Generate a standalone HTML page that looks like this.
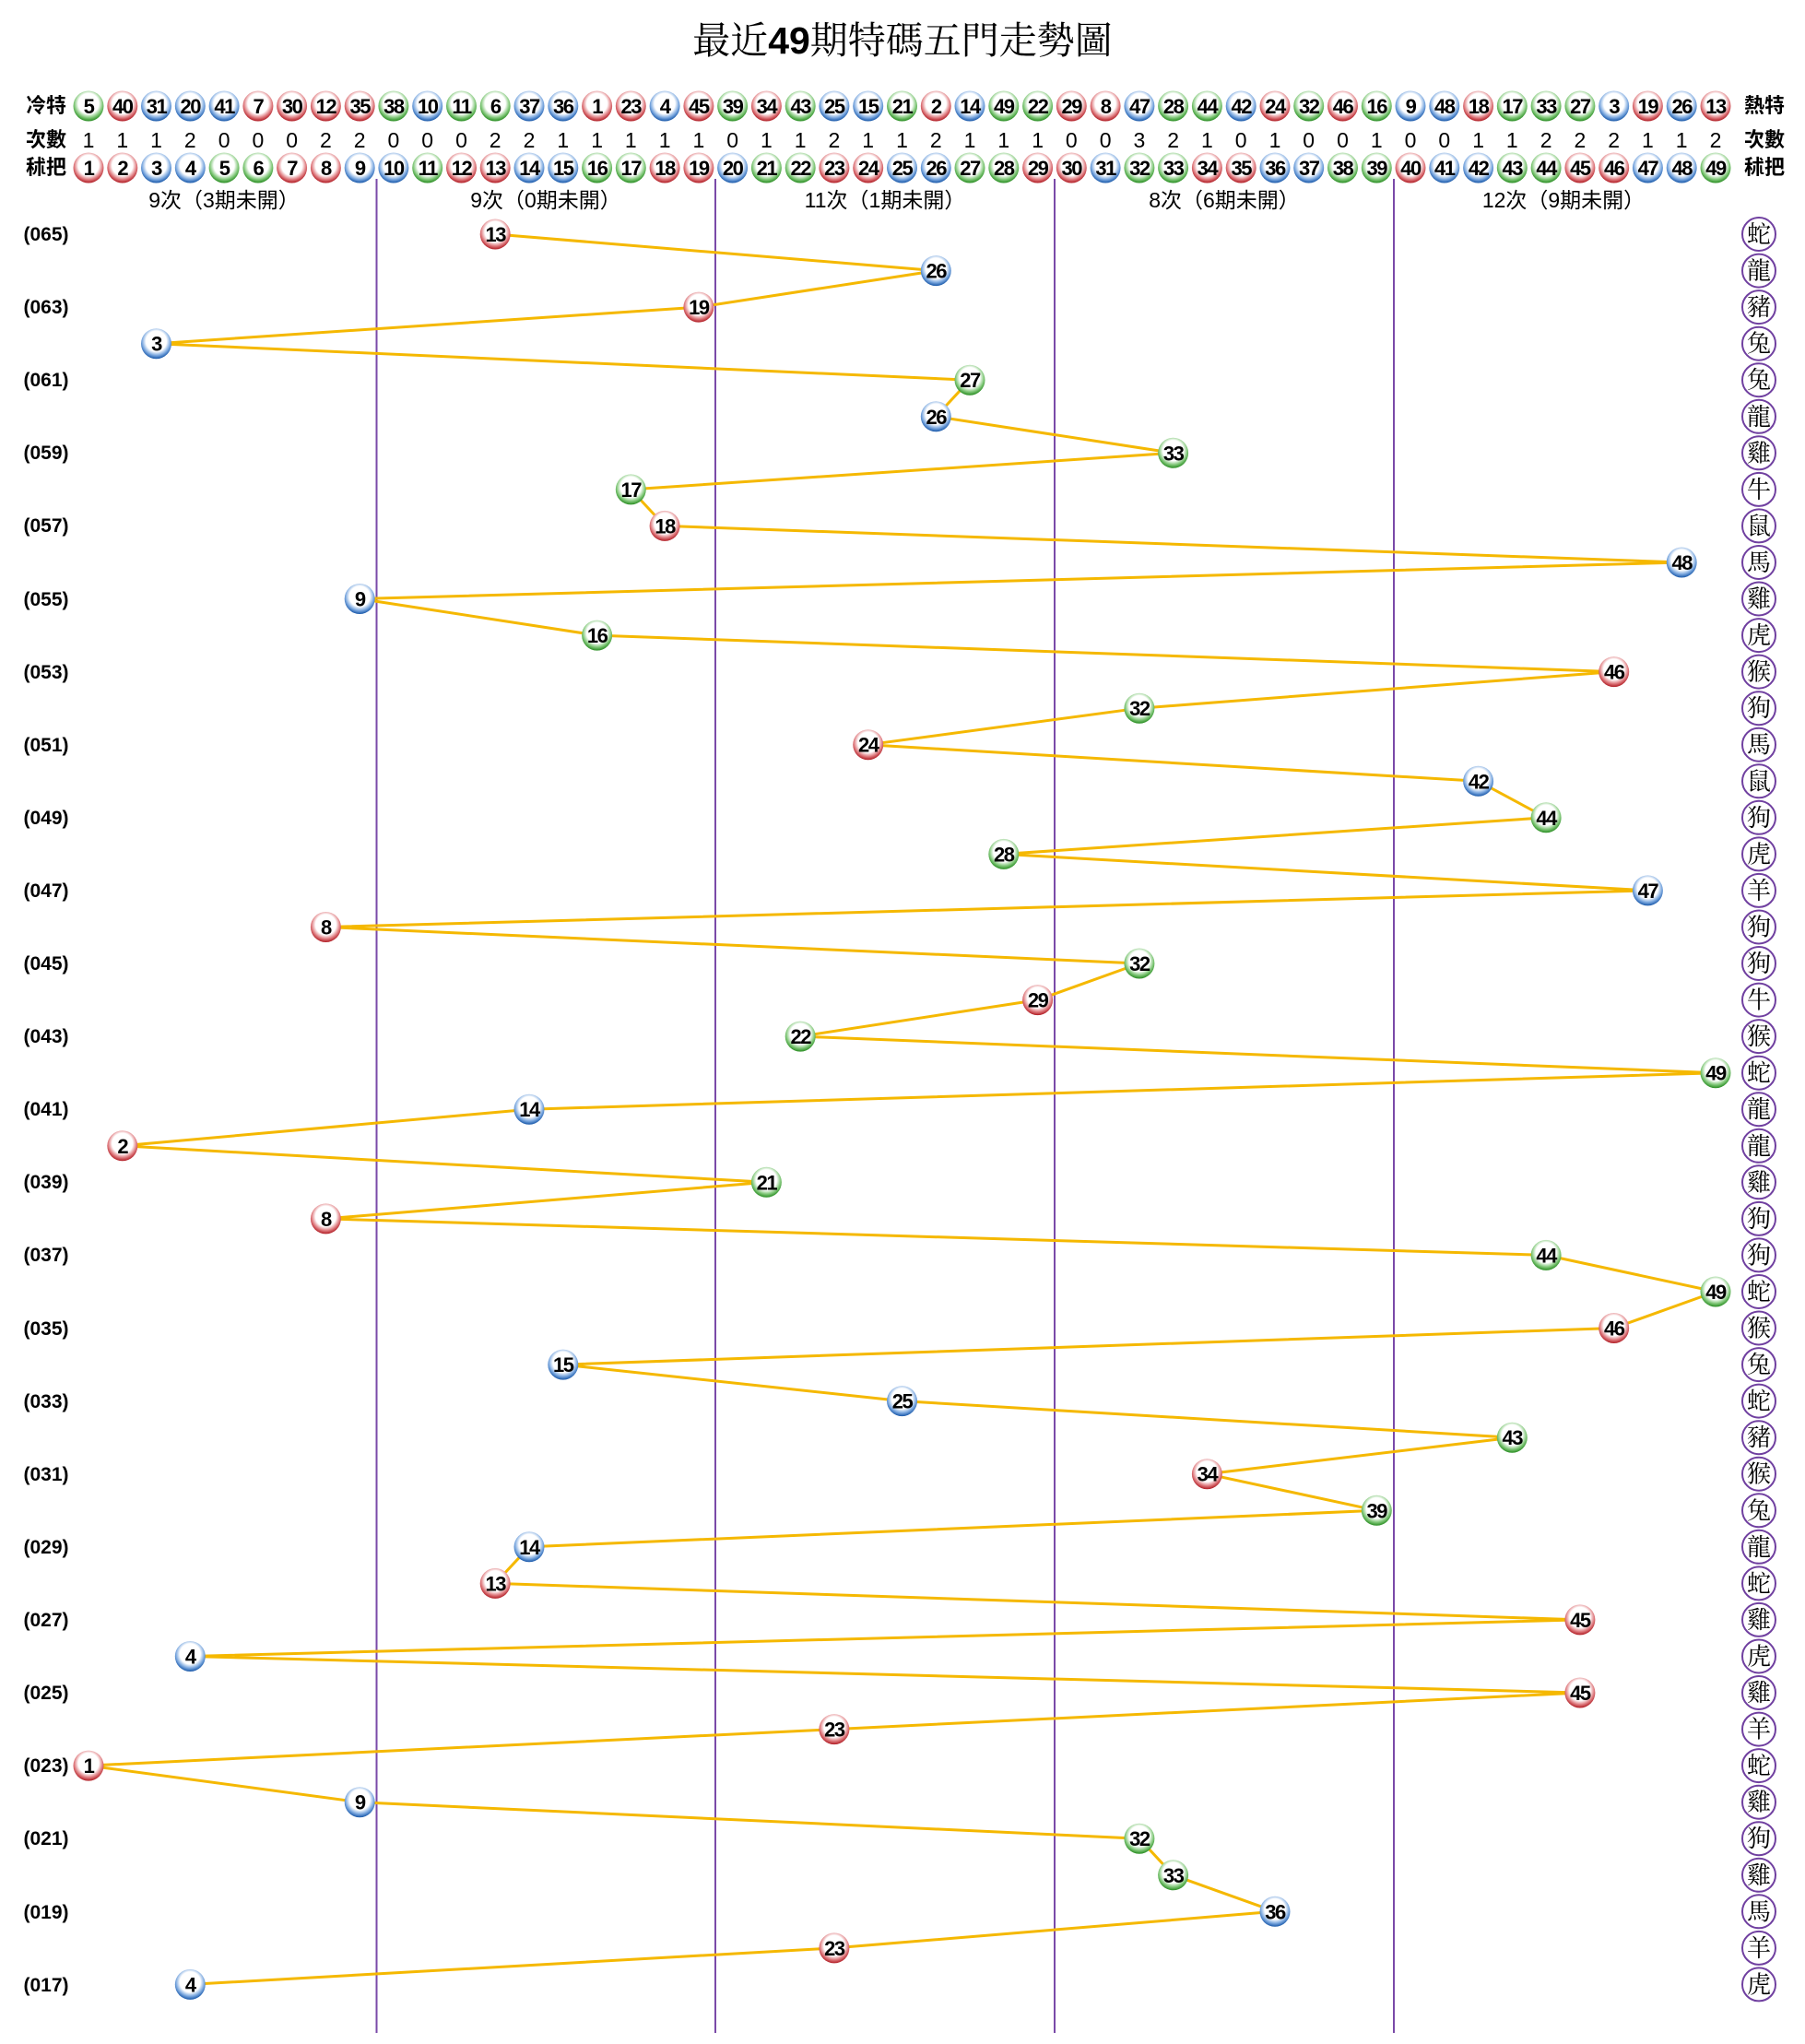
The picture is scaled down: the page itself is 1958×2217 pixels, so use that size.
<!DOCTYPE html>
<html><head><meta charset="utf-8"><style>
html,body{margin:0;padding:0;background:#fff;}
svg{display:block;}
.n{font-family:"Liberation Sans",sans-serif;font-weight:bold;font-size:22px;text-anchor:middle;fill:#000;letter-spacing:-1.5px;transform:translateY(2px);}
.c{font-family:"Liberation Sans",sans-serif;font-size:23px;text-anchor:middle;fill:#000;}
.lb{font-family:"Liberation Sans","Noto Sans CJK TC",sans-serif;font-weight:bold;font-size:22px;text-anchor:middle;fill:#000;}
.g{font-family:"Liberation Sans","Noto Sans CJK SC",sans-serif;font-size:23px;text-anchor:middle;fill:#000;}
.p{font-family:"Liberation Sans",sans-serif;font-weight:bold;font-size:21px;text-anchor:middle;fill:#000;}
.z{font-family:"Noto Serif CJK SC",serif;font-size:26px;text-anchor:middle;fill:#000;}
.R{fill:url(#gR)}.B{fill:url(#gB)}.G{fill:url(#gG)}
.zc{fill:#fff;stroke:#7040a0;stroke-width:2}
</style></head><body>
<svg width="1958" height="2217" viewBox="0 0 1958 2217" xmlns="http://www.w3.org/2000/svg">
<defs>
<radialGradient id="gR" cx="50%" cy="42%" r="58%"><stop offset="0" stop-color="#fff"/><stop offset="0.58" stop-color="#fff"/><stop offset="0.8" stop-color="#e07f83"/><stop offset="1" stop-color="#b01a22"/></radialGradient>
<radialGradient id="gB" cx="50%" cy="42%" r="58%"><stop offset="0" stop-color="#fff"/><stop offset="0.58" stop-color="#fff"/><stop offset="0.8" stop-color="#7eaae0"/><stop offset="1" stop-color="#1656a8"/></radialGradient>
<radialGradient id="gG" cx="50%" cy="42%" r="58%"><stop offset="0" stop-color="#fff"/><stop offset="0.58" stop-color="#fff"/><stop offset="0.8" stop-color="#84c97c"/><stop offset="1" stop-color="#278c20"/></radialGradient>
</defs>
<text x="979" y="58" text-anchor="middle" style="font-family:'Noto Serif CJK SC',serif;font-size:41px;fill:#000">最近<tspan style="font-family:'Liberation Sans',sans-serif;font-weight:bold">49</tspan>期特碼五門走勢圖</text>

<g stroke="#7a4aa8" stroke-width="2">
<line x1="408.5" y1="194" x2="408.5" y2="2205"/><line x1="776" y1="194" x2="776" y2="2205"/><line x1="1144" y1="194" x2="1144" y2="2205"/><line x1="1512" y1="194" x2="1512" y2="2205"/>
</g>

<text class="lb" x="50" y="122">冷特</text><text class="lb" x="50" y="159">次數</text><text class="lb" x="50" y="189">秫把</text>
<text class="lb" x="1914" y="122">熱特</text><text class="lb" x="1914" y="159">次數</text><text class="lb" x="1914" y="189">秫把</text>

<g>
<circle class="G" cx="96" cy="115" r="16.5"/><text class="n" x="96" y="121">5</text>
<circle class="R" cx="132.8" cy="115" r="16.5"/><text class="n" x="132.8" y="121">40</text>
<circle class="B" cx="169.5" cy="115" r="16.5"/><text class="n" x="169.5" y="121">31</text>
<circle class="B" cx="206.3" cy="115" r="16.5"/><text class="n" x="206.3" y="121">20</text>
<circle class="B" cx="243.1" cy="115" r="16.5"/><text class="n" x="243.1" y="121">41</text>
<circle class="R" cx="279.9" cy="115" r="16.5"/><text class="n" x="279.9" y="121">7</text>
<circle class="R" cx="316.6" cy="115" r="16.5"/><text class="n" x="316.6" y="121">30</text>
<circle class="R" cx="353.4" cy="115" r="16.5"/><text class="n" x="353.4" y="121">12</text>
<circle class="R" cx="390.2" cy="115" r="16.5"/><text class="n" x="390.2" y="121">35</text>
<circle class="G" cx="426.9" cy="115" r="16.5"/><text class="n" x="426.9" y="121">38</text>
<circle class="B" cx="463.7" cy="115" r="16.5"/><text class="n" x="463.7" y="121">10</text>
<circle class="G" cx="500.5" cy="115" r="16.5"/><text class="n" x="500.5" y="121">11</text>
<circle class="G" cx="537.2" cy="115" r="16.5"/><text class="n" x="537.2" y="121">6</text>
<circle class="B" cx="574" cy="115" r="16.5"/><text class="n" x="574" y="121">37</text>
<circle class="B" cx="610.8" cy="115" r="16.5"/><text class="n" x="610.8" y="121">36</text>
<circle class="R" cx="647.6" cy="115" r="16.5"/><text class="n" x="647.6" y="121">1</text>
<circle class="R" cx="684.3" cy="115" r="16.5"/><text class="n" x="684.3" y="121">23</text>
<circle class="B" cx="721.1" cy="115" r="16.5"/><text class="n" x="721.1" y="121">4</text>
<circle class="R" cx="757.9" cy="115" r="16.5"/><text class="n" x="757.9" y="121">45</text>
<circle class="G" cx="794.6" cy="115" r="16.5"/><text class="n" x="794.6" y="121">39</text>
<circle class="R" cx="831.4" cy="115" r="16.5"/><text class="n" x="831.4" y="121">34</text>
<circle class="G" cx="868.2" cy="115" r="16.5"/><text class="n" x="868.2" y="121">43</text>
<circle class="B" cx="904.9" cy="115" r="16.5"/><text class="n" x="904.9" y="121">25</text>
<circle class="B" cx="941.7" cy="115" r="16.5"/><text class="n" x="941.7" y="121">15</text>
<circle class="G" cx="978.5" cy="115" r="16.5"/><text class="n" x="978.5" y="121">21</text>
<circle class="R" cx="1015.3" cy="115" r="16.5"/><text class="n" x="1015.3" y="121">2</text>
<circle class="B" cx="1052" cy="115" r="16.5"/><text class="n" x="1052" y="121">14</text>
<circle class="G" cx="1088.8" cy="115" r="16.5"/><text class="n" x="1088.8" y="121">49</text>
<circle class="G" cx="1125.6" cy="115" r="16.5"/><text class="n" x="1125.6" y="121">22</text>
<circle class="R" cx="1162.3" cy="115" r="16.5"/><text class="n" x="1162.3" y="121">29</text>
<circle class="R" cx="1199.1" cy="115" r="16.5"/><text class="n" x="1199.1" y="121">8</text>
<circle class="B" cx="1235.9" cy="115" r="16.5"/><text class="n" x="1235.9" y="121">47</text>
<circle class="G" cx="1272.6" cy="115" r="16.5"/><text class="n" x="1272.6" y="121">28</text>
<circle class="G" cx="1309.4" cy="115" r="16.5"/><text class="n" x="1309.4" y="121">44</text>
<circle class="B" cx="1346.2" cy="115" r="16.5"/><text class="n" x="1346.2" y="121">42</text>
<circle class="R" cx="1383" cy="115" r="16.5"/><text class="n" x="1383" y="121">24</text>
<circle class="G" cx="1419.7" cy="115" r="16.5"/><text class="n" x="1419.7" y="121">32</text>
<circle class="R" cx="1456.5" cy="115" r="16.5"/><text class="n" x="1456.5" y="121">46</text>
<circle class="G" cx="1493.3" cy="115" r="16.5"/><text class="n" x="1493.3" y="121">16</text>
<circle class="B" cx="1530" cy="115" r="16.5"/><text class="n" x="1530" y="121">9</text>
<circle class="B" cx="1566.8" cy="115" r="16.5"/><text class="n" x="1566.8" y="121">48</text>
<circle class="R" cx="1603.6" cy="115" r="16.5"/><text class="n" x="1603.6" y="121">18</text>
<circle class="G" cx="1640.3" cy="115" r="16.5"/><text class="n" x="1640.3" y="121">17</text>
<circle class="G" cx="1677.1" cy="115" r="16.5"/><text class="n" x="1677.1" y="121">33</text>
<circle class="G" cx="1713.9" cy="115" r="16.5"/><text class="n" x="1713.9" y="121">27</text>
<circle class="B" cx="1750.7" cy="115" r="16.5"/><text class="n" x="1750.7" y="121">3</text>
<circle class="R" cx="1787.4" cy="115" r="16.5"/><text class="n" x="1787.4" y="121">19</text>
<circle class="B" cx="1824.2" cy="115" r="16.5"/><text class="n" x="1824.2" y="121">26</text>
<circle class="R" cx="1861" cy="115" r="16.5"/><text class="n" x="1861" y="121">13</text>
</g>

<g>
<text class="c" x="96" y="160">1</text><text class="c" x="132.8" y="160">1</text><text class="c" x="169.5" y="160">1</text><text class="c" x="206.3" y="160">2</text><text class="c" x="243.1" y="160">0</text><text class="c" x="279.9" y="160">0</text><text class="c" x="316.6" y="160">0</text><text class="c" x="353.4" y="160">2</text><text class="c" x="390.2" y="160">2</text>
<text class="c" x="426.9" y="160">0</text><text class="c" x="463.7" y="160">0</text><text class="c" x="500.5" y="160">0</text><text class="c" x="537.2" y="160">2</text><text class="c" x="574" y="160">2</text><text class="c" x="610.8" y="160">1</text><text class="c" x="647.6" y="160">1</text><text class="c" x="684.3" y="160">1</text><text class="c" x="721.1" y="160">1</text><text class="c" x="757.9" y="160">1</text>
<text class="c" x="794.6" y="160">0</text><text class="c" x="831.4" y="160">1</text><text class="c" x="868.2" y="160">1</text><text class="c" x="904.9" y="160">2</text><text class="c" x="941.7" y="160">1</text><text class="c" x="978.5" y="160">1</text><text class="c" x="1015.3" y="160">2</text><text class="c" x="1052" y="160">1</text><text class="c" x="1088.8" y="160">1</text><text class="c" x="1125.6" y="160">1</text>
<text class="c" x="1162.3" y="160">0</text><text class="c" x="1199.1" y="160">0</text><text class="c" x="1235.9" y="160">3</text><text class="c" x="1272.6" y="160">2</text><text class="c" x="1309.4" y="160">1</text><text class="c" x="1346.2" y="160">0</text><text class="c" x="1383" y="160">1</text><text class="c" x="1419.7" y="160">0</text><text class="c" x="1456.5" y="160">0</text><text class="c" x="1493.3" y="160">1</text>
<text class="c" x="1530" y="160">0</text><text class="c" x="1566.8" y="160">0</text><text class="c" x="1603.6" y="160">1</text><text class="c" x="1640.3" y="160">1</text><text class="c" x="1677.1" y="160">2</text><text class="c" x="1713.9" y="160">2</text><text class="c" x="1750.7" y="160">2</text><text class="c" x="1787.4" y="160">1</text><text class="c" x="1824.2" y="160">1</text><text class="c" x="1861" y="160">2</text>
</g>

<g>
<circle class="R" cx="96" cy="182" r="16.5"/><text class="n" x="96" y="188">1</text>
<circle class="R" cx="132.8" cy="182" r="16.5"/><text class="n" x="132.8" y="188">2</text>
<circle class="B" cx="169.5" cy="182" r="16.5"/><text class="n" x="169.5" y="188">3</text>
<circle class="B" cx="206.3" cy="182" r="16.5"/><text class="n" x="206.3" y="188">4</text>
<circle class="G" cx="243.1" cy="182" r="16.5"/><text class="n" x="243.1" y="188">5</text>
<circle class="G" cx="279.9" cy="182" r="16.5"/><text class="n" x="279.9" y="188">6</text>
<circle class="R" cx="316.6" cy="182" r="16.5"/><text class="n" x="316.6" y="188">7</text>
<circle class="R" cx="353.4" cy="182" r="16.5"/><text class="n" x="353.4" y="188">8</text>
<circle class="B" cx="390.2" cy="182" r="16.5"/><text class="n" x="390.2" y="188">9</text>
<circle class="B" cx="426.9" cy="182" r="16.5"/><text class="n" x="426.9" y="188">10</text>
<circle class="G" cx="463.7" cy="182" r="16.5"/><text class="n" x="463.7" y="188">11</text>
<circle class="R" cx="500.5" cy="182" r="16.5"/><text class="n" x="500.5" y="188">12</text>
<circle class="R" cx="537.2" cy="182" r="16.5"/><text class="n" x="537.2" y="188">13</text>
<circle class="B" cx="574" cy="182" r="16.5"/><text class="n" x="574" y="188">14</text>
<circle class="B" cx="610.8" cy="182" r="16.5"/><text class="n" x="610.8" y="188">15</text>
<circle class="G" cx="647.6" cy="182" r="16.5"/><text class="n" x="647.6" y="188">16</text>
<circle class="G" cx="684.3" cy="182" r="16.5"/><text class="n" x="684.3" y="188">17</text>
<circle class="R" cx="721.1" cy="182" r="16.5"/><text class="n" x="721.1" y="188">18</text>
<circle class="R" cx="757.9" cy="182" r="16.5"/><text class="n" x="757.9" y="188">19</text>
<circle class="B" cx="794.6" cy="182" r="16.5"/><text class="n" x="794.6" y="188">20</text>
<circle class="G" cx="831.4" cy="182" r="16.5"/><text class="n" x="831.4" y="188">21</text>
<circle class="G" cx="868.2" cy="182" r="16.5"/><text class="n" x="868.2" y="188">22</text>
<circle class="R" cx="904.9" cy="182" r="16.5"/><text class="n" x="904.9" y="188">23</text>
<circle class="R" cx="941.7" cy="182" r="16.5"/><text class="n" x="941.7" y="188">24</text>
<circle class="B" cx="978.5" cy="182" r="16.5"/><text class="n" x="978.5" y="188">25</text>
<circle class="B" cx="1015.3" cy="182" r="16.5"/><text class="n" x="1015.3" y="188">26</text>
<circle class="G" cx="1052" cy="182" r="16.5"/><text class="n" x="1052" y="188">27</text>
<circle class="G" cx="1088.8" cy="182" r="16.5"/><text class="n" x="1088.8" y="188">28</text>
<circle class="R" cx="1125.6" cy="182" r="16.5"/><text class="n" x="1125.6" y="188">29</text>
<circle class="R" cx="1162.3" cy="182" r="16.5"/><text class="n" x="1162.3" y="188">30</text>
<circle class="B" cx="1199.1" cy="182" r="16.5"/><text class="n" x="1199.1" y="188">31</text>
<circle class="G" cx="1235.9" cy="182" r="16.5"/><text class="n" x="1235.9" y="188">32</text>
<circle class="G" cx="1272.6" cy="182" r="16.5"/><text class="n" x="1272.6" y="188">33</text>
<circle class="R" cx="1309.4" cy="182" r="16.5"/><text class="n" x="1309.4" y="188">34</text>
<circle class="R" cx="1346.2" cy="182" r="16.5"/><text class="n" x="1346.2" y="188">35</text>
<circle class="B" cx="1383" cy="182" r="16.5"/><text class="n" x="1383" y="188">36</text>
<circle class="B" cx="1419.7" cy="182" r="16.5"/><text class="n" x="1419.7" y="188">37</text>
<circle class="G" cx="1456.5" cy="182" r="16.5"/><text class="n" x="1456.5" y="188">38</text>
<circle class="G" cx="1493.3" cy="182" r="16.5"/><text class="n" x="1493.3" y="188">39</text>
<circle class="R" cx="1530" cy="182" r="16.5"/><text class="n" x="1530" y="188">40</text>
<circle class="B" cx="1566.8" cy="182" r="16.5"/><text class="n" x="1566.8" y="188">41</text>
<circle class="B" cx="1603.6" cy="182" r="16.5"/><text class="n" x="1603.6" y="188">42</text>
<circle class="G" cx="1640.3" cy="182" r="16.5"/><text class="n" x="1640.3" y="188">43</text>
<circle class="G" cx="1677.1" cy="182" r="16.5"/><text class="n" x="1677.1" y="188">44</text>
<circle class="R" cx="1713.9" cy="182" r="16.5"/><text class="n" x="1713.9" y="188">45</text>
<circle class="R" cx="1750.7" cy="182" r="16.5"/><text class="n" x="1750.7" y="188">46</text>
<circle class="B" cx="1787.4" cy="182" r="16.5"/><text class="n" x="1787.4" y="188">47</text>
<circle class="B" cx="1824.2" cy="182" r="16.5"/><text class="n" x="1824.2" y="188">48</text>
<circle class="G" cx="1861" cy="182" r="16.5"/><text class="n" x="1861" y="188">49</text>
</g>

<text class="g" x="243" y="225">9次（3期未開）</text>
<text class="g" x="592" y="225">9次（0期未開）</text>
<text class="g" x="960" y="225">11次（1期未開）</text>
<text class="g" x="1328" y="225">8次（6期未開）</text>
<text class="g" x="1696" y="225">12次（9期未開）</text>

<g>
<text class="p" x="50" y="261">(065)</text><text class="p" x="50" y="340">(063)</text><text class="p" x="50" y="419">(061)</text><text class="p" x="50" y="498">(059)</text><text class="p" x="50" y="577">(057)</text><text class="p" x="50" y="657">(055)</text><text class="p" x="50" y="736">(053)</text><text class="p" x="50" y="815">(051)</text><text class="p" x="50" y="894">(049)</text><text class="p" x="50" y="973">(047)</text><text class="p" x="50" y="1052">(045)</text><text class="p" x="50" y="1131">(043)</text><text class="p" x="50" y="1210">(041)</text><text class="p" x="50" y="1289">(039)</text><text class="p" x="50" y="1368">(037)</text><text class="p" x="50" y="1448">(035)</text><text class="p" x="50" y="1527">(033)</text><text class="p" x="50" y="1606">(031)</text><text class="p" x="50" y="1685">(029)</text><text class="p" x="50" y="1764">(027)</text><text class="p" x="50" y="1843">(025)</text><text class="p" x="50" y="1922">(023)</text><text class="p" x="50" y="2001">(021)</text><text class="p" x="50" y="2081">(019)</text><text class="p" x="50" y="2160">(017)</text>
</g>

<polyline fill="none" stroke="#f5b800" stroke-width="3" stroke-linejoin="round" points="537.2,254 1015.3,293.6 757.9,333.1 169.5,372.7 1052,412.2 1015.3,451.8 1272.6,491.3 684.3,530.9 721.1,570.4 1824.2,610 390.2,649.5 647.6,689.1 1750.7,728.6 1235.9,768.2 941.7,807.7 1603.6,847.3 1677.1,886.8 1088.8,926.4 1787.4,965.9 353.4,1005.5 1235.9,1045 1125.6,1084.6 868.2,1124.1 1861,1163.7 574,1203.2 132.8,1242.8 831.4,1282.3 353.4,1321.9 1677.1,1361.4 1861,1401 1750.7,1440.5 610.8,1480.1 978.5,1519.6 1640.3,1559.2 1309.4,1598.7 1493.3,1638.3 574,1677.8 537.2,1717.4 1713.9,1756.9 206.3,1796.5 1713.9,1836 904.9,1875.6 96,1915.1 390.2,1954.7 1235.9,1994.2 1272.6,2033.8 1383,2073.3 904.9,2112.9 206.3,2152.4"/>

<g>
<circle class="R" cx="537.2" cy="254" r="16.5"/><text class="n" x="537.2" y="260">13</text>
<circle class="B" cx="1015.3" cy="293.6" r="16.5"/><text class="n" x="1015.3" y="299.6">26</text>
<circle class="R" cx="757.9" cy="333.1" r="16.5"/><text class="n" x="757.9" y="339.1">19</text>
<circle class="B" cx="169.5" cy="372.7" r="16.5"/><text class="n" x="169.5" y="378.7">3</text>
<circle class="G" cx="1052" cy="412.2" r="16.5"/><text class="n" x="1052" y="418.2">27</text>
<circle class="B" cx="1015.3" cy="451.8" r="16.5"/><text class="n" x="1015.3" y="457.8">26</text>
<circle class="G" cx="1272.6" cy="491.3" r="16.5"/><text class="n" x="1272.6" y="497.3">33</text>
<circle class="G" cx="684.3" cy="530.9" r="16.5"/><text class="n" x="684.3" y="536.9">17</text>
<circle class="R" cx="721.1" cy="570.4" r="16.5"/><text class="n" x="721.1" y="576.4">18</text>
<circle class="B" cx="1824.2" cy="610" r="16.5"/><text class="n" x="1824.2" y="616">48</text>
<circle class="B" cx="390.2" cy="649.5" r="16.5"/><text class="n" x="390.2" y="655.5">9</text>
<circle class="G" cx="647.6" cy="689.1" r="16.5"/><text class="n" x="647.6" y="695.1">16</text>
<circle class="R" cx="1750.7" cy="728.6" r="16.5"/><text class="n" x="1750.7" y="734.6">46</text>
<circle class="G" cx="1235.9" cy="768.2" r="16.5"/><text class="n" x="1235.9" y="774.2">32</text>
<circle class="R" cx="941.7" cy="807.7" r="16.5"/><text class="n" x="941.7" y="813.7">24</text>
<circle class="B" cx="1603.6" cy="847.3" r="16.5"/><text class="n" x="1603.6" y="853.3">42</text>
<circle class="G" cx="1677.1" cy="886.8" r="16.5"/><text class="n" x="1677.1" y="892.8">44</text>
<circle class="G" cx="1088.8" cy="926.4" r="16.5"/><text class="n" x="1088.8" y="932.4">28</text>
<circle class="B" cx="1787.4" cy="965.9" r="16.5"/><text class="n" x="1787.4" y="971.9">47</text>
<circle class="R" cx="353.4" cy="1005.5" r="16.5"/><text class="n" x="353.4" y="1011.5">8</text>
<circle class="G" cx="1235.9" cy="1045" r="16.5"/><text class="n" x="1235.9" y="1051">32</text>
<circle class="R" cx="1125.6" cy="1084.6" r="16.5"/><text class="n" x="1125.6" y="1090.6">29</text>
<circle class="G" cx="868.2" cy="1124.1" r="16.5"/><text class="n" x="868.2" y="1130.1">22</text>
<circle class="G" cx="1861" cy="1163.7" r="16.5"/><text class="n" x="1861" y="1169.7">49</text>
<circle class="B" cx="574" cy="1203.2" r="16.5"/><text class="n" x="574" y="1209.2">14</text>
<circle class="R" cx="132.8" cy="1242.8" r="16.5"/><text class="n" x="132.8" y="1248.8">2</text>
<circle class="G" cx="831.4" cy="1282.3" r="16.5"/><text class="n" x="831.4" y="1288.3">21</text>
<circle class="R" cx="353.4" cy="1321.9" r="16.5"/><text class="n" x="353.4" y="1327.9">8</text>
<circle class="G" cx="1677.1" cy="1361.4" r="16.5"/><text class="n" x="1677.1" y="1367.4">44</text>
<circle class="G" cx="1861" cy="1401" r="16.5"/><text class="n" x="1861" y="1407">49</text>
<circle class="R" cx="1750.7" cy="1440.5" r="16.5"/><text class="n" x="1750.7" y="1446.5">46</text>
<circle class="B" cx="610.8" cy="1480.1" r="16.5"/><text class="n" x="610.8" y="1486.1">15</text>
<circle class="B" cx="978.5" cy="1519.6" r="16.5"/><text class="n" x="978.5" y="1525.6">25</text>
<circle class="G" cx="1640.3" cy="1559.2" r="16.5"/><text class="n" x="1640.3" y="1565.2">43</text>
<circle class="R" cx="1309.4" cy="1598.7" r="16.5"/><text class="n" x="1309.4" y="1604.7">34</text>
<circle class="G" cx="1493.3" cy="1638.3" r="16.5"/><text class="n" x="1493.3" y="1644.3">39</text>
<circle class="B" cx="574" cy="1677.8" r="16.5"/><text class="n" x="574" y="1683.8">14</text>
<circle class="R" cx="537.2" cy="1717.4" r="16.5"/><text class="n" x="537.2" y="1723.4">13</text>
<circle class="R" cx="1713.9" cy="1756.9" r="16.5"/><text class="n" x="1713.9" y="1762.9">45</text>
<circle class="B" cx="206.3" cy="1796.5" r="16.5"/><text class="n" x="206.3" y="1802.5">4</text>
<circle class="R" cx="1713.9" cy="1836" r="16.5"/><text class="n" x="1713.9" y="1842">45</text>
<circle class="R" cx="904.9" cy="1875.6" r="16.5"/><text class="n" x="904.9" y="1881.6">23</text>
<circle class="R" cx="96" cy="1915.1" r="16.5"/><text class="n" x="96" y="1921.1">1</text>
<circle class="B" cx="390.2" cy="1954.7" r="16.5"/><text class="n" x="390.2" y="1960.7">9</text>
<circle class="G" cx="1235.9" cy="1994.2" r="16.5"/><text class="n" x="1235.9" y="2000.2">32</text>
<circle class="G" cx="1272.6" cy="2033.8" r="16.5"/><text class="n" x="1272.6" y="2039.8">33</text>
<circle class="B" cx="1383" cy="2073.3" r="16.5"/><text class="n" x="1383" y="2079.3">36</text>
<circle class="R" cx="904.9" cy="2112.9" r="16.5"/><text class="n" x="904.9" y="2118.9">23</text>
<circle class="B" cx="206.3" cy="2152.4" r="16.5"/><text class="n" x="206.3" y="2158.4">4</text>
</g>

<g>
<circle class="zc" cx="1908" cy="254" r="18"/><text class="z" x="1908" y="263">蛇</text>
<circle class="zc" cx="1908" cy="293.6" r="18"/><text class="z" x="1908" y="302.6">龍</text>
<circle class="zc" cx="1908" cy="333.1" r="18"/><text class="z" x="1908" y="342.1">豬</text>
<circle class="zc" cx="1908" cy="372.7" r="18"/><text class="z" x="1908" y="381.7">兔</text>
<circle class="zc" cx="1908" cy="412.2" r="18"/><text class="z" x="1908" y="421.2">兔</text>
<circle class="zc" cx="1908" cy="451.8" r="18"/><text class="z" x="1908" y="460.8">龍</text>
<circle class="zc" cx="1908" cy="491.3" r="18"/><text class="z" x="1908" y="500.3">雞</text>
<circle class="zc" cx="1908" cy="530.9" r="18"/><text class="z" x="1908" y="539.9">牛</text>
<circle class="zc" cx="1908" cy="570.4" r="18"/><text class="z" x="1908" y="579.4">鼠</text>
<circle class="zc" cx="1908" cy="610" r="18"/><text class="z" x="1908" y="619">馬</text>
<circle class="zc" cx="1908" cy="649.5" r="18"/><text class="z" x="1908" y="658.5">雞</text>
<circle class="zc" cx="1908" cy="689.1" r="18"/><text class="z" x="1908" y="698.1">虎</text>
<circle class="zc" cx="1908" cy="728.6" r="18"/><text class="z" x="1908" y="737.6">猴</text>
<circle class="zc" cx="1908" cy="768.2" r="18"/><text class="z" x="1908" y="777.2">狗</text>
<circle class="zc" cx="1908" cy="807.7" r="18"/><text class="z" x="1908" y="816.7">馬</text>
<circle class="zc" cx="1908" cy="847.3" r="18"/><text class="z" x="1908" y="856.3">鼠</text>
<circle class="zc" cx="1908" cy="886.8" r="18"/><text class="z" x="1908" y="895.8">狗</text>
<circle class="zc" cx="1908" cy="926.4" r="18"/><text class="z" x="1908" y="935.4">虎</text>
<circle class="zc" cx="1908" cy="965.9" r="18"/><text class="z" x="1908" y="974.9">羊</text>
<circle class="zc" cx="1908" cy="1005.5" r="18"/><text class="z" x="1908" y="1014.5">狗</text>
<circle class="zc" cx="1908" cy="1045" r="18"/><text class="z" x="1908" y="1054">狗</text>
<circle class="zc" cx="1908" cy="1084.6" r="18"/><text class="z" x="1908" y="1093.6">牛</text>
<circle class="zc" cx="1908" cy="1124.1" r="18"/><text class="z" x="1908" y="1133.1">猴</text>
<circle class="zc" cx="1908" cy="1163.7" r="18"/><text class="z" x="1908" y="1172.7">蛇</text>
<circle class="zc" cx="1908" cy="1203.2" r="18"/><text class="z" x="1908" y="1212.2">龍</text>
<circle class="zc" cx="1908" cy="1242.8" r="18"/><text class="z" x="1908" y="1251.8">龍</text>
<circle class="zc" cx="1908" cy="1282.3" r="18"/><text class="z" x="1908" y="1291.3">雞</text>
<circle class="zc" cx="1908" cy="1321.9" r="18"/><text class="z" x="1908" y="1330.9">狗</text>
<circle class="zc" cx="1908" cy="1361.4" r="18"/><text class="z" x="1908" y="1370.4">狗</text>
<circle class="zc" cx="1908" cy="1401" r="18"/><text class="z" x="1908" y="1410">蛇</text>
<circle class="zc" cx="1908" cy="1440.5" r="18"/><text class="z" x="1908" y="1449.5">猴</text>
<circle class="zc" cx="1908" cy="1480.1" r="18"/><text class="z" x="1908" y="1489.1">兔</text>
<circle class="zc" cx="1908" cy="1519.6" r="18"/><text class="z" x="1908" y="1528.6">蛇</text>
<circle class="zc" cx="1908" cy="1559.2" r="18"/><text class="z" x="1908" y="1568.2">豬</text>
<circle class="zc" cx="1908" cy="1598.7" r="18"/><text class="z" x="1908" y="1607.7">猴</text>
<circle class="zc" cx="1908" cy="1638.3" r="18"/><text class="z" x="1908" y="1647.3">兔</text>
<circle class="zc" cx="1908" cy="1677.8" r="18"/><text class="z" x="1908" y="1686.8">龍</text>
<circle class="zc" cx="1908" cy="1717.4" r="18"/><text class="z" x="1908" y="1726.4">蛇</text>
<circle class="zc" cx="1908" cy="1756.9" r="18"/><text class="z" x="1908" y="1765.9">雞</text>
<circle class="zc" cx="1908" cy="1796.5" r="18"/><text class="z" x="1908" y="1805.5">虎</text>
<circle class="zc" cx="1908" cy="1836" r="18"/><text class="z" x="1908" y="1845">雞</text>
<circle class="zc" cx="1908" cy="1875.6" r="18"/><text class="z" x="1908" y="1884.6">羊</text>
<circle class="zc" cx="1908" cy="1915.1" r="18"/><text class="z" x="1908" y="1924.1">蛇</text>
<circle class="zc" cx="1908" cy="1954.7" r="18"/><text class="z" x="1908" y="1963.7">雞</text>
<circle class="zc" cx="1908" cy="1994.2" r="18"/><text class="z" x="1908" y="2003.2">狗</text>
<circle class="zc" cx="1908" cy="2033.8" r="18"/><text class="z" x="1908" y="2042.8">雞</text>
<circle class="zc" cx="1908" cy="2073.3" r="18"/><text class="z" x="1908" y="2082.3">馬</text>
<circle class="zc" cx="1908" cy="2112.9" r="18"/><text class="z" x="1908" y="2121.9">羊</text>
<circle class="zc" cx="1908" cy="2152.4" r="18"/><text class="z" x="1908" y="2161.4">虎</text>
</g>
</svg>
</body></html>
